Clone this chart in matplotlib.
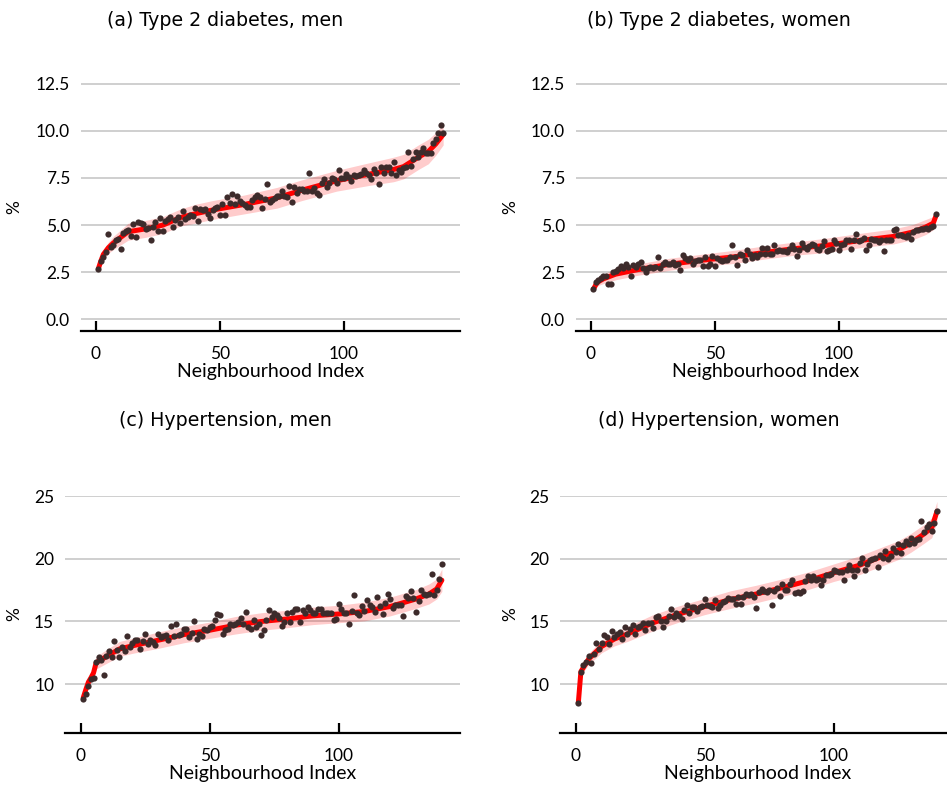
import matplotlib
matplotlib.use('Agg')
import numpy as np
import matplotlib.pyplot as plt
from matplotlib.ticker import MultipleLocator

plt.rcParams['font.family'] = ['Lato', 'DejaVu Sans']

# observed prevalence per neighbourhood (sorted by model estimate)
t2d_men = [2.68, 3.1, 3.3, 3.6, 4.53, 3.86, 3.95, 4.2, 4.25, 3.74, 4.57, 4.7, 4.74, 4.4, 5.08,
           4.37, 5.15, 5.1, 5.08, 4.8, 4.83, 4.2, 4.92, 5.18, 4.7, 5.38, 4.7, 5.2, 5.3, 5.45,
           4.92, 5.27, 5.42, 5.1, 5.75, 5.3, 5.45, 5.54, 5.5, 5.9, 5.24, 5.87, 5.8, 5.87, 5.6,
           5.36, 5.8, 5.93, 5.98, 5.54, 6.1, 5.54, 6.47, 6.15, 6.65, 6.1, 6.55, 6.3, 6.15, 6.07,
           5.98, 5.98, 6.33, 6.5, 6.57, 6.47, 5.93, 6.4, 7.2, 6.25, 6.33, 6.42, 6.55, 6.55, 6.8,
           6.55, 6.47, 7.08, 6.2, 7.04, 6.69, 6.9, 6.9, 6.83, 6.83, 7.75, 6.83, 6.95, 6.69, 6.58,
           7.25, 7.43, 7.0, 7.25, 7.48, 7.43, 7.25, 7.92, 7.48, 7.48, 7.69, 7.57, 7.36, 7.66, 7.6,
           7.66, 7.69, 7.92, 7.78, 7.64, 7.46, 8.0, 7.78, 7.2, 8.06, 7.78, 8.06, 8.06, 7.78, 8.33,
           7.66, 7.92, 7.84, 8.05, 8.06, 8.86, 8.14, 8.5, 8.86, 8.63, 8.86, 9.1, 8.8, 8.84, 8.84,
           9.34, 9.55, 9.87, 10.29, 9.9]
t2d_women = [1.63, 2.0, 2.1, 2.2, 2.29, 2.32, 1.9, 1.9, 2.52, 2.57, 2.66, 2.82, 2.7, 2.96, 2.78,
             2.29, 2.87, 2.78, 2.96, 3.03, 2.7, 2.52, 2.7, 2.78, 2.7, 2.78, 3.32, 2.7, 2.96, 3.05,
             2.96, 2.96, 3.05, 2.87, 2.96, 2.6, 3.4, 3.28, 3.14, 3.23, 2.96, 3.1, 3.17, 3.14, 2.85,
             3.32, 2.85, 2.96, 3.35, 2.85, 3.23, 3.14, 3.1, 3.17, 3.14, 3.32, 3.94, 3.32, 2.87, 3.49,
             3.4, 3.14, 3.7, 3.49, 3.28, 3.4, 3.32, 3.49, 3.79, 3.45, 3.8, 3.45, 3.45, 3.93, 3.62,
             3.66, 3.62, 3.62, 3.57, 3.75, 3.93, 3.75, 3.36, 3.69, 4.05, 3.84, 3.75, 3.87, 4.01, 3.93,
             3.75, 3.66, 3.87, 4.16, 3.62, 3.69, 3.75, 4.19, 4.05, 3.66, 3.93, 4.01, 4.19, 4.19, 3.75,
             4.19, 4.55, 4.16, 4.23, 4.33, 3.69, 3.93, 4.28, 4.23, 4.19, 4.1, 4.19, 3.62, 4.23, 4.23,
             4.23, 4.76, 4.81, 4.46, 4.46, 4.4, 4.37, 4.46, 4.28, 4.64, 4.72, 4.72, 4.81, 4.81, 4.87,
             4.81, 4.9, 4.96, 5.58]
hyp_men = [8.83, 9.23, 9.81, 10.43, 10.5, 11.76, 12.15, 11.89, 10.69, 12.23, 12.63, 12.2, 13.43,
           12.74, 12.15, 12.95, 12.63, 13.83, 12.95, 13.27, 13.48, 13.54, 12.82, 13.43, 13.96, 13.22,
           13.48, 13.35, 13.16, 13.96, 13.75, 13.8, 13.88, 13.54, 14.63, 13.8, 14.76, 13.88, 13.96,
           14.41, 14.41, 13.75, 14.07, 15.03, 13.62, 14.02, 13.8, 14.41, 14.28, 14.55, 14.6, 15.08,
           15.61, 15.48, 13.96, 14.34, 14.41, 14.81, 14.68, 14.81, 14.95, 15.29, 14.81, 15.74, 14.55,
           14.41, 15.08, 14.55, 14.81, 13.88, 14.28, 15.08, 15.93, 15.32, 15.64, 15.5, 15.24, 14.65,
           14.97, 15.69, 14.92, 15.77, 15.96, 15.96, 14.92, 15.9, 15.69, 16.12, 15.9, 15.64, 15.69,
           15.96, 15.96, 15.64, 15.64, 15.64, 15.64, 15.11, 15.16, 16.38, 15.96, 15.64, 15.64, 14.79,
           15.85, 17.13, 15.69, 15.5, 16.22, 15.85, 16.7, 16.3, 16.12, 15.77, 16.97, 16.22, 15.59,
           16.49, 17.18, 16.76, 16.09, 16.3, 16.3, 16.3, 15.43, 17.02, 16.84, 17.45, 16.84, 15.72,
           16.65, 17.5, 17.23, 17.1, 17.23, 18.83, 17.1, 17.55, 18.43, 19.63]
hyp_women = [8.51, 10.98, 11.52, 11.78, 12.23, 11.65, 12.39, 13.24, 12.77, 13.3, 13.91, 13.78,
             13.19, 14.26, 13.78, 13.99, 14.18, 13.56, 14.57, 13.99, 14.36, 14.71, 13.99, 14.57,
             14.63, 14.89, 14.31, 14.84, 14.89, 14.44, 15.32, 15.43, 15.05, 14.57, 15.05, 15.43,
             15.96, 15.32, 15.69, 15.43, 15.16, 15.9, 16.3, 15.64, 16.12, 16.12, 15.85, 16.12, 16.22,
             16.76, 16.3, 16.22, 16.12, 16.7, 16.04, 16.3, 16.57, 16.65, 16.84, 16.76, 16.76, 16.38,
             16.92, 16.38, 16.92, 17.23, 17.1, 17.23, 16.92, 16.04, 17.37, 17.63, 17.45, 17.37, 17.5,
             16.3, 17.45, 17.71, 17.02, 18.03, 17.55, 17.55, 17.98, 18.3, 17.29, 17.37, 17.29, 17.45,
             18.24, 18.62, 18.3, 18.62, 18.35, 18.43, 17.9, 18.35, 18.7, 18.7, 18.78, 19.1, 19.02,
             18.96, 18.96, 18.35, 19.1, 19.5, 19.15, 18.62, 19.15, 19.68, 20.11, 19.15, 19.63, 19.9,
             20.03, 20.11, 19.36, 20.29, 20.11, 20.64, 20.03, 20.21, 20.9, 20.56, 21.17, 20.48, 21.09,
             21.44, 21.17, 21.7, 21.28, 21.49, 21.62, 23.0, 22.15, 22.55, 22.77, 22.23, 22.87, 23.83]

# model estimate and uncertainty band, read at selected indices
idx_a = [1, 2, 3, 5, 7, 10, 13, 20, 27, 34, 40, 47, 60, 73, 83, 97, 110, 120, 124, 130, 134, 137, 140]
est_a = [2.7, 3.1, 3.45, 3.8, 4.05, 4.35, 4.65, 4.8, 5.0, 5.4, 5.6, 5.8, 6.1, 6.45, 6.85, 7.35, 7.7,
         7.95, 8.1, 8.6, 8.9, 9.3, 9.8]
lo_a = [2.55, 2.9, 3.2, 3.5, 3.7, 3.95, 4.2, 4.35, 4.55, 4.95, 5.1, 5.3, 5.6, 5.9, 6.3, 6.8, 7.1,
        7.3, 7.45, 7.95, 8.25, 8.7, 9.25]
hi_a = [2.85, 3.3, 3.7, 4.1, 4.4, 4.75, 5.1, 5.25, 5.45, 5.85, 6.1, 6.3, 6.6, 7.0, 7.4, 7.9, 8.3,
        8.6, 8.75, 9.25, 9.55, 9.9, 10.35]

idx_b = [1, 2, 3, 5, 10, 19, 32, 45, 58, 70, 82, 95, 109, 122, 130, 135, 138, 139]
est_b = [1.6, 1.85, 2.0, 2.15, 2.4, 2.64, 2.93, 3.14, 3.32, 3.55, 3.75, 3.93, 4.19, 4.4, 4.64, 4.9,
         5.1, 5.45]
lo_b = [1.5, 1.7, 1.8, 1.9, 2.1, 2.34, 2.61, 2.82, 2.97, 3.2, 3.4, 3.55, 3.81, 4.0, 4.24, 4.5, 4.75, 5.15]
hi_b = [1.7, 2.0, 2.2, 2.4, 2.7, 2.94, 3.25, 3.46, 3.67, 3.9, 4.1, 4.31, 4.57, 4.8, 5.04, 5.3, 5.45, 5.75]

idx_c = [1, 2, 3, 4, 5, 6, 10, 15, 20, 30, 40, 50, 60, 70, 80, 90, 100, 110, 120, 125, 130, 135, 138, 140]
est_c = [8.9, 9.55, 10.15, 10.5, 10.9, 11.7, 12.2, 12.8, 13.05, 13.5, 13.95, 14.3, 14.7, 15.0, 15.2,
         15.45, 15.6, 15.8, 16.2, 16.5, 16.8, 17.2, 17.6, 18.3]
lo_c = [8.65, 9.25, 9.8, 10.1, 10.45, 11.2, 11.65, 12.2, 12.45, 12.85, 13.3, 13.65, 14.0, 14.3, 14.5,
        14.75, 14.9, 15.05, 15.45, 15.75, 16.05, 16.4, 16.8, 17.4]
hi_c = [9.15, 9.85, 10.5, 10.9, 11.35, 12.2, 12.75, 13.4, 13.65, 14.15, 14.6, 14.95, 15.4, 15.7, 15.9,
        16.15, 16.3, 16.55, 16.95, 17.25, 17.55, 18.0, 18.4, 19.2]

idx_d = [1, 2, 5, 10, 15, 20, 30, 40, 50, 60, 70, 80, 90, 100, 110, 120, 125, 130, 135, 138, 140]
est_d = [8.5, 11.0, 12.0, 13.0, 13.6, 14.0, 14.9, 15.6, 16.2, 16.75, 17.2, 17.7, 18.25, 18.9, 19.5,
         20.3, 20.7, 21.3, 22.0, 22.5, 23.8]
lo_d = [8.4, 10.7, 11.55, 12.5, 13.05, 13.4, 14.25, 14.95, 15.55, 16.05, 16.5, 17.0, 17.55, 18.2, 18.75,
        19.55, 19.95, 20.55, 21.25, 21.7, 23.0]
hi_d = [8.6, 11.3, 12.45, 13.5, 14.15, 14.6, 15.55, 16.25, 16.85, 17.45, 17.9, 18.4, 18.95, 19.6, 20.25,
        21.05, 21.45, 22.05, 22.75, 23.3, 24.6]

titles = ['(a) Type 2 diabetes, men', '(b) Type 2 diabetes, women',
          '(c) Hypertension, men', '(d) Hypertension, women']

W, H = 947, 786
fig = plt.figure(figsize=(W / 100, H / 100), dpi=100)

# panel boxes in pixels: x0, x1, y_top, y_bottom ; then ylim, tick step, ylabel x, title centre
panels = [
    (t2d_men, idx_a, est_a, lo_a, hi_a, (81.2, 460.4, 83.3, 330.7), (-0.6, 12.52), 2.5, 22, (225, 20)),
    (t2d_women, idx_b, est_b, lo_b, hi_b, (576.2, 955.4, 83.3, 330.7), (-0.6, 12.52), 2.5, 518, (719, 20)),
    (hyp_men, idx_c, est_c, lo_c, hi_c, (65.3, 459.8, 496.0, 732.7), (6.11, 25.03), 5, 22, (225, 421)),
    (hyp_women, idx_d, est_d, lo_d, hi_d, (560.4, 954.9, 496.0, 732.7), (6.11, 25.03), 5, 518, (719, 421)),
]

for k, (obs, idx, est, lo, hi, box, ylim, step, ylab_x, tpos) in enumerate(panels):
    x0, x1, yt, yb = box
    ax = fig.add_axes([x0 / W, 1 - yb / H, (x1 - x0) / W, (yb - yt) / H])
    ax.fill_between(idx, lo, hi, color='red', alpha=0.2, lw=0, zorder=1)
    ax.plot(idx, est, color='red', lw=3.6, solid_capstyle='round', zorder=2)
    ax.scatter(np.arange(1, len(obs) + 1), obs, s=20, color='#3d2b2b', lw=0, zorder=3)

    ax.set_xlim(-5.95, 146.95)
    ax.set_ylim(*ylim)
    ax.set_xticks([0, 50, 100])
    ax.yaxis.set_major_locator(MultipleLocator(step))
    if step == 2.5:
        ax.set_yticklabels(['%.1f' % v for v in ax.get_yticks()])
    ax.grid(axis='y', color='#cccccc', lw=1.3)
    ax.set_axisbelow(True)
    for s in ['left', 'right', 'top']:
        ax.spines[s].set_visible(False)
    ax.spines['bottom'].set_linewidth(1.6)
    ax.tick_params(axis='x', direction='in', length=7, width=1.6, pad=11, labelsize=12.5)
    ax.tick_params(axis='y', length=0, pad=8, labelsize=12.5)
    ax.set_xlabel('Neighbourhood Index', fontsize=14, labelpad=1)
    ax.set_ylabel('%', fontsize=12.5)
    ax.yaxis.set_label_coords((ylab_x - x0) / (x1 - x0), 0.5)
    fig.text(tpos[0] / W, 1 - tpos[1] / H, titles[k], ha='center', va='center',
             fontsize=13.7, family=['DejaVu Sans'])

fig.savefig('out.png', dpi=100)
